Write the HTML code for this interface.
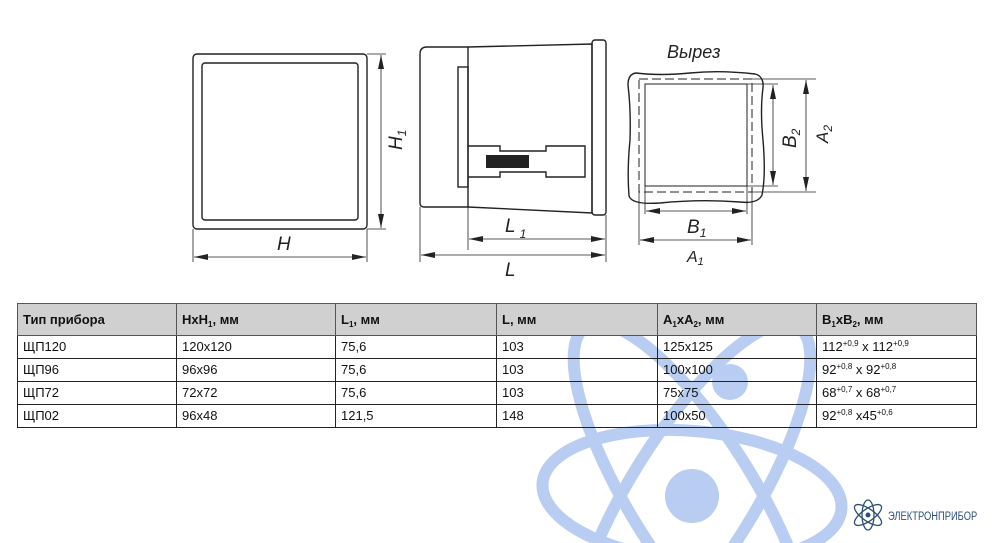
<!DOCTYPE html>
<html><head><meta charset="utf-8"><style>
html,body{margin:0;padding:0;background:#fff;}
body{width:993px;height:543px;position:relative;overflow:hidden;font-family:"Liberation Sans","DejaVu Sans",sans-serif;}
svg{position:absolute;left:0;top:0;}
table{position:absolute;left:17px;top:303px;border-collapse:collapse;width:960px;font-size:13px;color:#111;z-index:2;}
td{border:1px solid #222;padding:0 0 0 5px;height:22px;line-height:22px;}
tr.h td{background:#d0d0d0;font-weight:bold;height:31px;border-color:#555;}
sub{font-size:8px;vertical-align:-3px;line-height:0}
sup{font-size:8px;vertical-align:5px;line-height:0}
.wm{z-index:1}
.top{z-index:3}
</style></head><body>
<svg class="wm" width="993" height="543" viewBox="0 0 993 543">
<g fill="none" stroke="#b9cdf2" stroke-width="12">
<ellipse cx="692" cy="496" rx="200" ry="62" transform="rotate(58 692 496)"/>
<ellipse cx="692" cy="496" rx="200" ry="62" transform="rotate(122 692 496)"/>
<ellipse cx="692" cy="496" rx="150" ry="65" transform="rotate(5 692 496)"/>
</g>
<circle cx="692" cy="496" r="27" fill="#b9cdf2"/>
<circle cx="730" cy="382" r="18" fill="#b9cdf2"/>
</svg>
<table>
<tr class="h"><td style="width:153px">Тип прибора</td><td style="width:153px">HxH<sub>1</sub>, мм</td><td style="width:155px">L<sub>1</sub>, мм</td><td style="width:155px">L, мм</td><td style="width:153px">A<sub>1</sub>xA<sub>2</sub>, мм</td><td>B<sub>1</sub>xB<sub>2</sub>, мм</td></tr>
<tr><td>ЩП120</td><td>120x120</td><td>75,6</td><td>103</td><td>125x125</td><td>112<sup>+0,9</sup> x 112<sup>+0,9</sup></td></tr>
<tr><td>ЩП96</td><td>96x96</td><td>75,6</td><td>103</td><td>100x100</td><td>92<sup>+0,8</sup> x 92<sup>+0,8</sup></td></tr>
<tr><td>ЩП72</td><td>72x72</td><td>75,6</td><td>103</td><td>75x75</td><td>68<sup>+0,7</sup> x 68<sup>+0,7</sup></td></tr>
<tr><td>ЩП02</td><td>96x48</td><td>121,5</td><td>148</td><td>100x50</td><td>92<sup>+0,8</sup> x45<sup>+0,6</sup></td></tr>
</table>
<svg class="top" width="993" height="543" viewBox="0 0 993 543">
<defs>
<marker id="a" markerWidth="14" markerHeight="6" refX="14" refY="3" orient="auto-start-reverse" markerUnits="userSpaceOnUse"><path d="M0,0 L14,3 L0,6 z" fill="#222"/></marker>
</defs>
<g fill="none" stroke="#222" stroke-width="1.4">
<rect x="193" y="54" width="174" height="175" rx="4"/>
<rect x="202" y="63" width="156" height="157" rx="3"/>
<g stroke-width="0.8">
<line x1="367" y1="54" x2="386" y2="54"/><line x1="367" y1="229" x2="386" y2="229"/>
<line x1="381" y1="55" x2="381" y2="228" marker-start="url(#a)" marker-end="url(#a)"/>
<line x1="193" y1="229" x2="193" y2="262"/><line x1="367" y1="229" x2="367" y2="262"/>
<line x1="194" y1="257" x2="366" y2="257" marker-start="url(#a)" marker-end="url(#a)"/>
</g>
<path d="M468,47 L427,47 Q420,47 420,54 L420,203 Q420,207 424,207 L468,207 Z"/>
<path d="M468,47 L592,44 L592,213 L468,207"/>
<rect x="592" y="40" width="14" height="175" rx="3"/>
<rect x="458" y="67" width="10" height="120"/>
<path d="M468,146 L500,146 L500,151 L546,151 L546,146 L585,146 L585,177 L546,177 L546,172 L500,172 L500,177 L468,177"/>
<rect x="486" y="155" width="43" height="13" fill="#222" stroke="none"/>
<g stroke-width="0.8">
<line x1="468" y1="207" x2="468" y2="250"/>
<line x1="420" y1="207" x2="420" y2="262"/><line x1="606" y1="215" x2="606" y2="262"/>
<line x1="469" y1="239" x2="605" y2="239" marker-start="url(#a)" marker-end="url(#a)"/>
<line x1="421" y1="255" x2="605" y2="255" marker-start="url(#a)" marker-end="url(#a)"/>
</g>
<path d="M636,73 Q660,76 690,73 Q720,70 755,74 Q764,76 763,88 Q760,110 763,140 Q766,175 762,195 Q758,204 740,202 Q700,199 660,203 Q632,205 629,196 Q627,170 630,140 Q631,110 628,85 Q628,74 636,73 Z"/>
<rect x="639" y="79" width="113" height="113" stroke-dasharray="9,4" stroke-width="1"/>
<rect x="645" y="84" width="102" height="102" stroke-width="1"/>
<g stroke-width="0.8">
<line x1="747" y1="84" x2="778" y2="84"/><line x1="747" y1="186" x2="778" y2="186"/>
<line x1="752" y1="79" x2="816" y2="79"/><line x1="752" y1="192" x2="816" y2="192"/>
<line x1="773" y1="85" x2="773" y2="185" marker-start="url(#a)" marker-end="url(#a)"/>
<line x1="806" y1="80" x2="806" y2="191" marker-start="url(#a)" marker-end="url(#a)"/>
<line x1="645" y1="186" x2="645" y2="214"/><line x1="747" y1="186" x2="747" y2="214"/>
<line x1="639" y1="192" x2="639" y2="245"/><line x1="752" y1="192" x2="752" y2="245"/>
<line x1="646" y1="211" x2="746" y2="211" marker-start="url(#a)" marker-end="url(#a)"/>
<line x1="640" y1="240" x2="751" y2="240" marker-start="url(#a)" marker-end="url(#a)"/>
</g>
</g>
<g font-family="Liberation Sans, sans-serif" font-style="italic" fill="#222" font-size="19">
<text x="277" y="250">H</text>
<text transform="translate(402,150) rotate(-90)">H<tspan font-size="12" dy="4">1</tspan></text>
<text x="505" y="232">L<tspan font-size="12" dx="4" dy="6">1</tspan></text>
<text x="505" y="276">L</text>
<text x="667" y="58" font-size="18">Вырез</text>
<text x="687" y="233">B<tspan font-size="12" dy="4">1</tspan></text>
<text x="687" y="262" font-size="16">A<tspan font-size="11" dy="3">1</tspan></text>
<text transform="translate(796,148) rotate(-90)">B<tspan font-size="12" dy="4">2</tspan></text>
<text transform="translate(828,143) rotate(-90)" font-size="17">A<tspan font-size="12" dy="4">2</tspan></text>
</g>
<g fill="none" stroke="#2f4f78" stroke-width="1.3">
<ellipse cx="868" cy="515" rx="16" ry="6" transform="rotate(35 868 515)"/>
<ellipse cx="868" cy="515" rx="16" ry="6" transform="rotate(-35 868 515)"/>
<ellipse cx="868" cy="515" rx="6" ry="15"/>
</g>
<circle cx="868" cy="515" r="2.5" fill="#2f4f78"/>
<text transform="translate(888,520) scale(0.78,1)" font-family="Liberation Sans, sans-serif" font-size="12" fill="#2f4f78">ЭЛЕКТРОНПРИБОР</text>
</svg>
</body></html>
